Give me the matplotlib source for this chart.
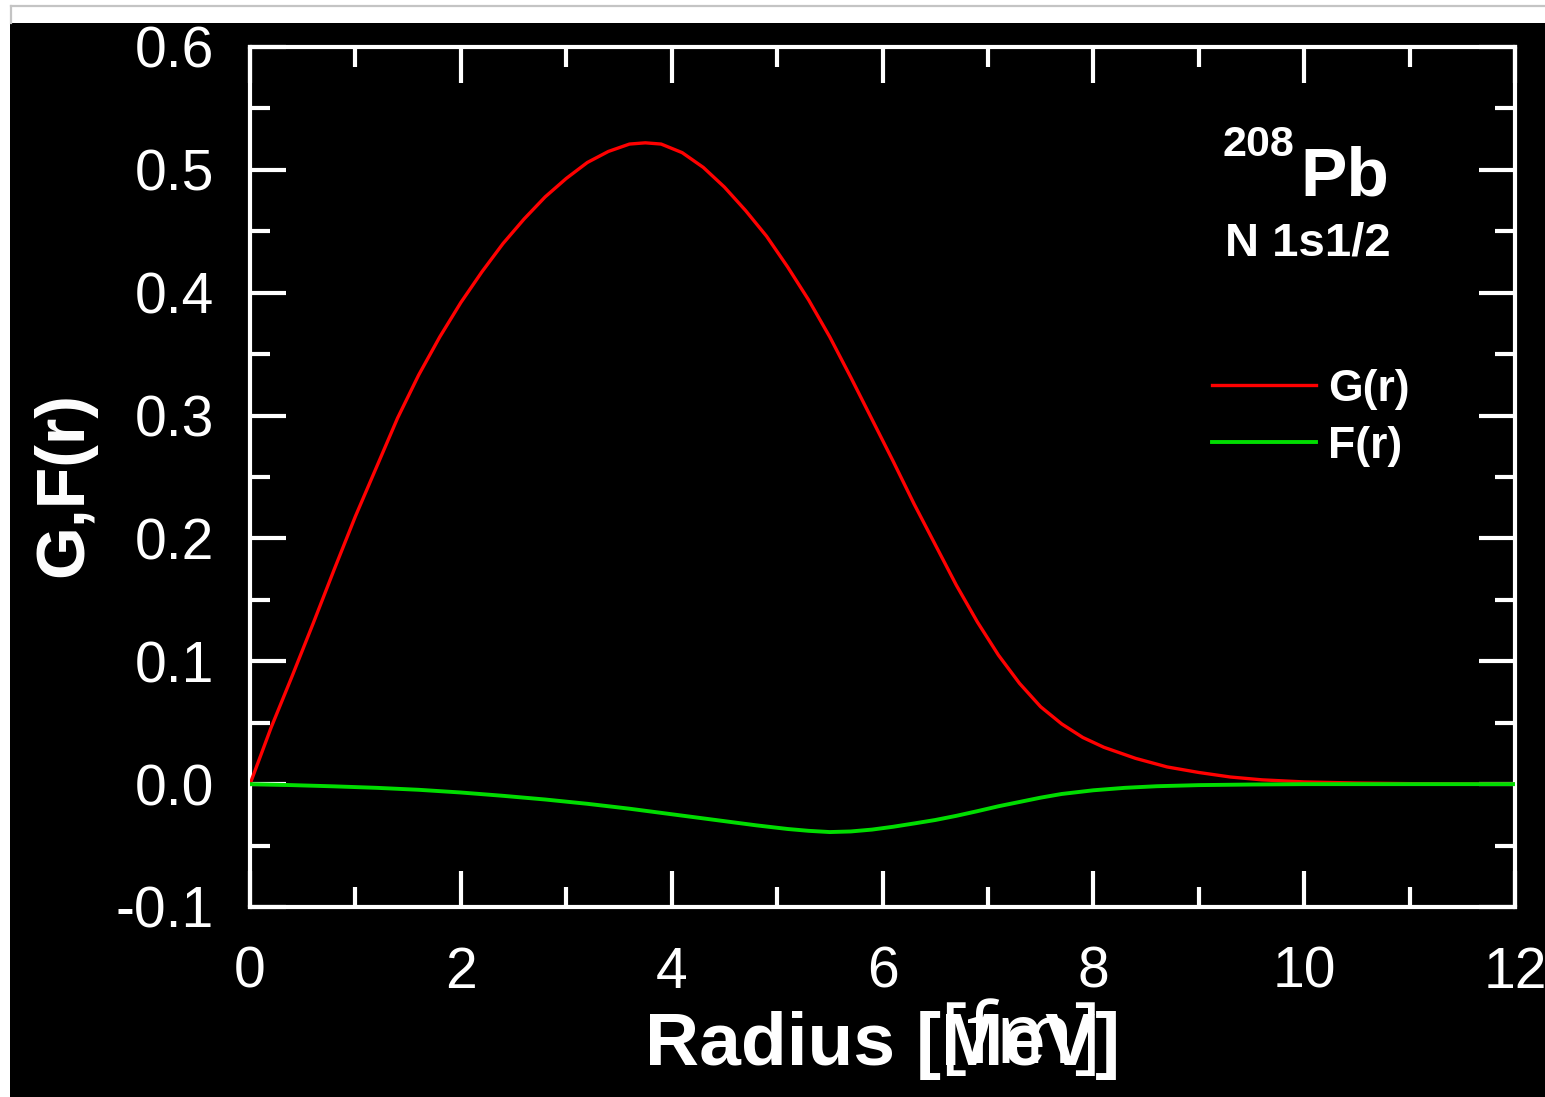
import matplotlib
matplotlib.use("Agg")
import matplotlib.pyplot as plt
from matplotlib.patches import Rectangle
from matplotlib.lines import Line2D
from matplotlib.ticker import MultipleLocator, FuncFormatter

# ---- data ----
r_G = [0.0, 0.2, 0.4, 0.6, 0.8, 1.0, 1.2, 1.4, 1.6, 1.8, 2.0, 2.2, 2.4, 2.6, 2.8,
       3.0, 3.2, 3.4, 3.6, 3.75, 3.9, 4.1, 4.3, 4.5, 4.7, 4.9, 5.1, 5.3, 5.5, 5.7,
       5.9, 6.1, 6.3, 6.5, 6.7, 6.9, 7.1, 7.3, 7.5, 7.7, 7.9, 8.1, 8.4, 8.7, 9.0,
       9.3, 9.6, 10.0, 10.5, 11.0, 12.0]
G_vals = [0.0, 0.046, 0.088, 0.131, 0.175, 0.218, 0.258, 0.298, 0.333, 0.364, 0.392,
          0.417, 0.440, 0.460, 0.478, 0.493, 0.506, 0.515, 0.521, 0.522, 0.521, 0.514,
          0.502, 0.486, 0.467, 0.446, 0.421, 0.394, 0.364, 0.331, 0.297, 0.263, 0.228,
          0.195, 0.162, 0.132, 0.105, 0.082, 0.063, 0.049, 0.038, 0.030, 0.021, 0.014,
          0.0095, 0.0058, 0.0035, 0.0018, 0.0009, 0.0004, 0.0]

r_F = [0.0, 0.4, 0.8, 1.2, 1.6, 2.0, 2.4, 2.8, 3.2, 3.6, 4.0, 4.4, 4.8, 5.1, 5.3,
       5.5, 5.7, 5.9, 6.1, 6.3, 6.5, 6.7, 6.9, 7.1, 7.3, 7.5, 7.7, 8.0, 8.3, 8.6,
       9.0, 9.5, 10.0, 12.0]
F_vals = [0.0, -0.0008, -0.0018, -0.003, -0.0046, -0.0068, -0.0095, -0.0125, -0.016,
          -0.020, -0.0245, -0.029, -0.0335, -0.0365, -0.038, -0.039, -0.0385, -0.037,
          -0.0347, -0.032, -0.0292, -0.0258, -0.022, -0.018, -0.0145, -0.011, -0.008,
          -0.005, -0.003, -0.0017, -0.0008, -0.0003, 0.0, 0.0]

series_labels = ["G(r)", "F(r)"]
x_label = "Radius [MeV]"
x_label_overlay = "[fm]"
y_label = "G,F(r)"
nucleus_mass = "208"
nucleus_sym = "Pb"
state_label = "N 1s1/2"

W, H = 1545, 1097
FONT = "Liberation Sans"

fig = plt.figure(figsize=(W / 100, H / 100), dpi=100)
fig.patch.set_facecolor("white")

# black panel and thin grey frame at top-left
fig.add_artist(Rectangle((10 / W, 0), (W - 10) / W, (H - 23) / H,
                         transform=fig.transFigure, facecolor="black",
                         edgecolor="none", zorder=-10))
fig.add_artist(Line2D([11 / W, 1.0], [1 - 6 / H, 1 - 6 / H], transform=fig.transFigure,
                      color="#c4c4c4", lw=1.6))
fig.add_artist(Line2D([11 / W, 11 / W], [1 - 6 / H, 1 - 23 / H], transform=fig.transFigure,
                      color="#c4c4c4", lw=1.6))

ax = fig.add_axes([250 / W, 1 - 907 / H, (1515 - 250) / W, (907 - 47) / H])
ax.set_facecolor("black")

ax.plot(r_G, G_vals, color="#ff0000", lw=2.4, label=series_labels[0], zorder=3,
        solid_joinstyle="round")
ax.plot(r_F, F_vals, color="#00dd00", lw=2.8, label=series_labels[1], zorder=3,
        solid_joinstyle="round")

ax.set_xlim(0, 12)
ax.set_ylim(-0.1, 0.6)
ax.xaxis.set_major_locator(MultipleLocator(2))
ax.xaxis.set_minor_locator(MultipleLocator(1))
ax.yaxis.set_major_locator(MultipleLocator(0.1))
ax.yaxis.set_minor_locator(MultipleLocator(0.05))

for s in ax.spines.values():
    s.set_color("white")
    s.set_linewidth(3)

ax.tick_params(which="both", direction="in", top=True, right=True, colors="white",
               width=3)
ax.tick_params(which="major", length=26)
ax.tick_params(which="minor", length=14.5)
ax.tick_params(axis="x", which="major", pad=28)
ax.tick_params(axis="y", which="major", pad=26)
ax.yaxis.set_major_formatter(FuncFormatter(lambda v, p: f"{v:.1f}"))
ax.xaxis.set_major_formatter(FuncFormatter(lambda v, p: f"{v:.0f}"))
for lab in ax.get_xticklabels() + ax.get_yticklabels():
    lab.set_fontfamily(FONT)
    lab.set_fontsize(41)
    lab.set_color("white")

# axis labels
fig.text(883 / W, 1 - 1065 / H, x_label, ha="center", va="baseline", color="white",
         fontsize=54, fontweight="bold", family=FONT)
fig.text(1020 / W, 1 - 1063 / H, x_label_overlay, ha="center", va="baseline",
         color="white", fontsize=61, family="Open Sans")
fig.text(64 / W, 1 - 485 / H, y_label, ha="center", va="center", rotation=90,
         color="white", fontsize=49, fontweight="bold", family=FONT)

# annotation
fig.text(1223 / W, 1 - 156 / H, nucleus_mass, ha="left", va="baseline", color="white",
         fontsize=31, fontweight="bold", family=FONT)
fig.text(1300 / W, 1 - 195 / H, nucleus_sym, ha="left", va="baseline", color="white",
         fontsize=50, fontweight="bold", family=FONT)
fig.text(1225 / W, 1 - 256 / H, state_label, ha="left", va="baseline", color="white",
         fontsize=34, fontweight="bold", family=FONT)

leg = ax.legend(loc="upper left", bbox_to_anchor=(1212 / W, 1 - 369 / H),
                bbox_transform=fig.transFigure, frameon=False, borderpad=0,
                borderaxespad=0, handlelength=2.35, handletextpad=0.27,
                labelspacing=0.36, prop={"family": FONT, "weight": "bold", "size": 32})
for t in leg.get_texts():
    t.set_color("white")

fig.savefig("out.png", dpi=100, facecolor=fig.get_facecolor())
